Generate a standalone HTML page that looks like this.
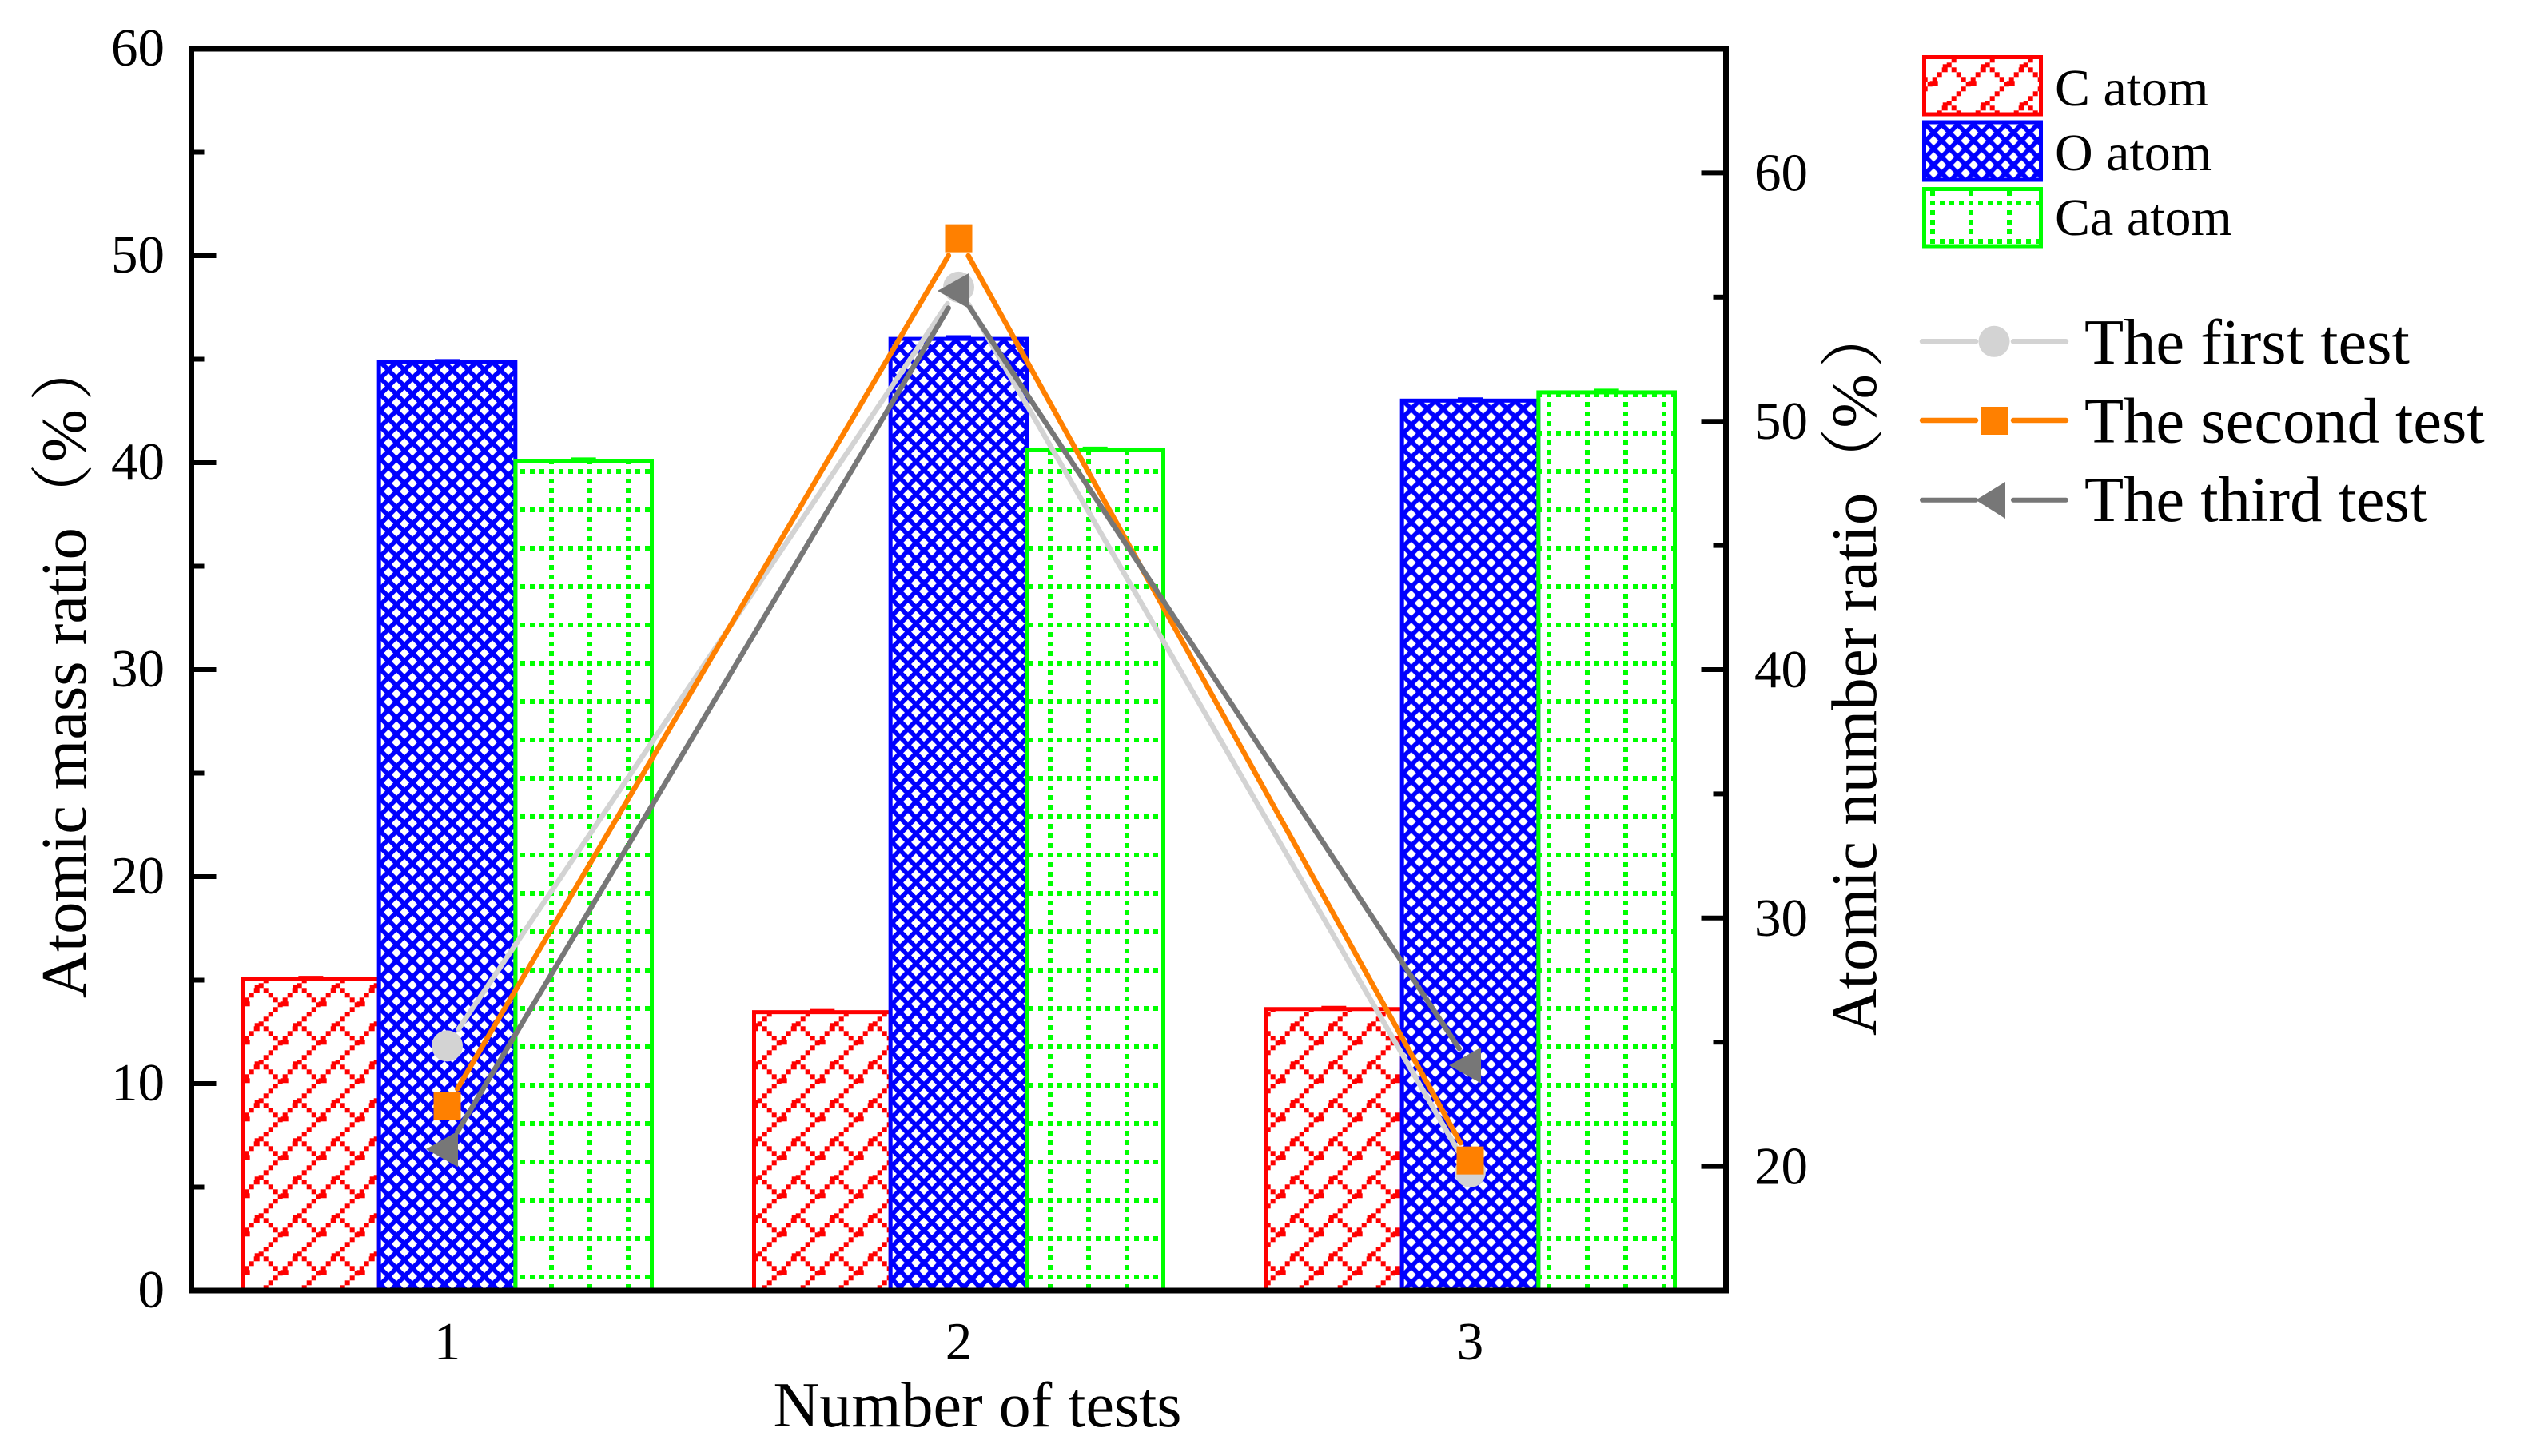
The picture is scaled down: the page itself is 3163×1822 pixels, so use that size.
<!DOCTYPE html>
<html lang="en">
<head>
<meta charset="utf-8">
<title>Atomic mass and number ratio chart</title>
<style>
html,body{margin:0;padding:0;background:#fff;}
svg{display:block;}
text{font-family:"Liberation Serif","Noto Serif CJK SC",serif;fill:#000;}
</style>
</head>
<body>
<svg id="chart" xmlns="http://www.w3.org/2000/svg" width="3163" height="1822" viewBox="0 0 3163 1822">
<defs id="defs">
<pattern id="hatch-red" patternUnits="userSpaceOnUse" x="326.7" y="1233.3" width="48" height="48" shape-rendering="crispEdges"></pattern>
<pattern id="hatch-green" patternUnits="userSpaceOnUse" x="15" y="11" width="48" height="48" shape-rendering="crispEdges"></pattern>
</defs>
<rect x="0" y="0" width="3163" height="1822" fill="#fff"></rect>
<g id="bars"></g>
<g id="lines"></g>
<g id="axes"></g>

<text x="107" y="1249" font-size="80.3" transform="rotate(-90 107 1249)">Atomic mass ratio（<tspan dx="1">%</tspan><tspan dx="10">）</tspan></text>
<text x="2347" y="1296" font-size="81" transform="rotate(-90 2347 1296)">Atomic number ratio（%<tspan dx="8">）</tspan></text>
<text x="1223" y="1785" font-size="80" text-anchor="middle">Number of tests</text>

<g>
<g>
<rect x="2407.5" y="71.5" width="146" height="71.5" fill="url(#hatch-red)" stroke="#ff0000" stroke-width="5"></rect>
<text x="2571" y="132" font-size="66">C atom</text>
</g>
<g>
<rect x="2407.5" y="153" width="146" height="72" fill="url(#hatch-blue-legend)" stroke="#0000ff" stroke-width="5"></rect>
<text x="2571" y="213" font-size="66">O atom</text>
</g>
<g>
<rect x="2407.5" y="236.5" width="146" height="71.5" fill="url(#hatch-green)" stroke="#00ff00" stroke-width="5"></rect>
<text x="2571" y="294" font-size="66">Ca atom</text>
</g>
</g>

<g stroke-linecap="round">
<g>
<line x1="2405" y1="427.3" x2="2472" y2="427.3" stroke="#d3d3d3" stroke-width="6.5"></line>
<line x1="2519" y1="427.3" x2="2585" y2="427.3" stroke="#d3d3d3" stroke-width="6.5"></line>
<circle cx="2495" cy="427.3" r="19.5" fill="#d3d3d3"></circle>
<text x="2608" y="455" font-size="80.5">The first test</text>
</g>
<g>
<line x1="2405" y1="526" x2="2472" y2="526" stroke="#ff8000" stroke-width="6.5"></line>
<line x1="2519" y1="526" x2="2585" y2="526" stroke="#ff8000" stroke-width="6.5"></line>
<rect x="2478" y="509" width="34" height="35" fill="#ff8000"></rect>
<text x="2608" y="553.5" font-size="80.5">The second test</text>
</g>
<g>
<line x1="2405" y1="625.7" x2="2472" y2="625.7" stroke="#777777" stroke-width="6"></line>
<line x1="2519" y1="625.7" x2="2585" y2="625.7" stroke="#777777" stroke-width="6"></line>
<polygon points="2472,625.7 2509,603 2509,649" fill="#777777"></polygon>
<text x="2608" y="652" font-size="80.5">The third test</text>
</g>
</g>
</svg>
<script>
// Chart data
const categories = ['1', '2', '3'];
const cAtom = [15.05, 13.45, 13.6];
const oAtom = [44.85, 45.98, 43.0];
const caAtom = [40.08, 40.6, 43.4];
const cAtomErr = [0.06, 0.06, 0.06];
const oAtomErr = [0.06, 0.08, 0.06];
const caAtomErr = [0.08, 0.08, 0.08];
const firstTest = [24.85, 55.4, 19.78];
const secondTest = [22.43, 57.37, 20.24];
const thirdTest = [20.7, 55.25, 24.07];
const leftTicks = ['0', '10', '20', '30', '40', '50', '60'];
const rightTicks = ['20', '30', '40', '50', '60'];

const NS = 'http://www.w3.org/2000/svg';
const plotLeft = 239.5, plotRight = 2159.5, plotTop = 61, plotBottom = 1615;
const leftMin = 0, leftMax = 60, rightMin = 15, rightMax = 65;
function yLeft(v) { return plotBottom - (v - leftMin) / (leftMax - leftMin) * (plotBottom - plotTop); }
function yRight(v) { return plotBottom - (v - rightMin) / (rightMax - rightMin) * (plotBottom - plotTop); }
function xCat(i) { return plotLeft + (i + 0.5) * (plotRight - plotLeft) / categories.length; }
const barWidth = (plotRight - plotLeft) / categories.length * 0.8 / 3;

function make(tag, attrs, parent) {
  const el = document.createElementNS(NS, tag);
  for (const k in attrs) el.setAttribute(k, attrs[k]);
  parent.appendChild(el);
  return el;
}

// Hatch tiles
const red = document.getElementById('hatch-red');
function redDot(x, y) {
  for (const dx of [0, 48, -48]) for (const dy of [0, 48, -48]) {
    make('rect', { x: x + dx, y: y + dy, width: 6, height: 6, fill: '#ff0000' }, red);
  }
}
for (let k = 0; k < 8; k++) redDot(((48 - 6 * k) % 48) - 3, 6 * k - 3);
for (let k = 1; k < 4; k++) redDot(6 * k - 3, 6 * k - 3);
redDot(-8, 3); redDot(-8, -1); redDot(24, 20); redDot(28, 20);

const green = document.getElementById('hatch-green');
for (let k = 0; k < 4; k++) {
  make('rect', { x: 12 * k, y: 0, width: 6, height: 6, fill: '#00ff00' }, green);
  if (k > 0) make('rect', { x: 0, y: 12 * k, width: 6, height: 6, fill: '#00ff00' }, green);
}

// Blue diamond hatch: the reference restarts its phase on each bar
const defs = document.getElementById('defs');
function blueHatch(id, ax, ay) {
  const w = 20, h = 20.25, r = 6;
  const p = make('pattern', { id: id, patternUnits: 'userSpaceOnUse', x: ax, y: ay, width: w, height: h }, defs);
  make('rect', { width: w, height: h, fill: '#0000ff' }, p);
  [[0, 0], [w, 0], [0, h], [w, h], [w / 2, h / 2]].forEach(function (c) {
    make('polygon', { points: c[0] + ',' + (c[1] - r) + ' ' + (c[0] + r) + ',' + c[1] + ' ' + c[0] + ',' + (c[1] + r) + ' ' + (c[0] - r) + ',' + c[1], fill: '#fff' }, p);
  });
}
blueHatch('hatch-blue-0', 486, 1506);
blueHatch('hatch-blue-1', 1146, 527.3);
blueHatch('hatch-blue-2', 1775.7, 1504);
blueHatch('hatch-blue-legend', 2429.3, 166);

// Bars
const barsG = document.getElementById('bars');
const barSeries = [
  { key: 'c-atom', vals: cAtom, errs: cAtomErr, color: '#ff0000', hatch: function () { return 'hatch-red'; }, off: -1 },
  { key: 'o-atom', vals: oAtom, errs: oAtomErr, color: '#0000ff', hatch: function (i) { return 'hatch-blue-' + i; }, off: 0 },
  { key: 'ca-atom', vals: caAtom, errs: caAtomErr, color: '#00ff00', hatch: function () { return 'hatch-green'; }, off: 1 }
];
barSeries.forEach(function (s) {
  s.vals.forEach(function (v, i) {
    const cx = xCat(i) + s.off * barWidth;
    const top = yLeft(v);
    const bar = make('rect', { x: cx - barWidth / 2, y: top, width: barWidth, height: yLeft(0) - top, fill: 'url(#' + s.hatch(i) + ')', stroke: s.color, 'stroke-width': 5 }, barsG);
    
    
    const capY = yLeft(v + s.errs[i]);
    const cap = make('line', { x1: cx - 15.5, x2: cx + 15.5, y1: capY, y2: capY, stroke: s.color, 'stroke-width': 5 }, barsG);
    
    
  });
});

// Lines
const linesG = document.getElementById('lines');
const gap = 25;
const lineSeries = [
  { key: 'first-test', vals: firstTest, color: '#d3d3d3', width: 6.5, marker: 'circle' },
  { key: 'second-test', vals: secondTest, color: '#ff8000', width: 6.5, marker: 'square' },
  { key: 'third-test', vals: thirdTest, color: '#777777', width: 6.5, marker: 'triangle' }
];
lineSeries.forEach(function (s) {
  const pts = s.vals.map(function (v, i) { return [xCat(i), yRight(v)]; });
  for (let i = 0; i < pts.length - 1; i++) {
    const a = pts[i], b = pts[i + 1];
    const d = Math.hypot(b[0] - a[0], b[1] - a[1]);
    const ux = (b[0] - a[0]) / d, uy = (b[1] - a[1]) / d;
    const seg = make('line', { x1: a[0] + ux * gap, y1: a[1] + uy * gap, x2: b[0] - ux * gap, y2: b[1] - uy * gap, stroke: s.color, 'stroke-width': s.width, 'stroke-linecap': 'round' }, linesG);
    
    
  }
});
lineSeries.forEach(function (s) {
  s.vals.forEach(function (v, i) {
    const x = xCat(i), y = yRight(v);
    let m;
    if (s.marker === 'circle') {
      m = make('circle', { cx: x, cy: y, r: 19.5, fill: s.color }, linesG);
    } else if (s.marker === 'square') {
      m = make('rect', { x: x - 17, y: y - 17.5, width: 34, height: 35, fill: s.color }, linesG);
    } else {
      m = make('polygon', { points: (x - 26.5) + ',' + y + ' ' + (x + 13.5) + ',' + (y - 22.5) + ' ' + (x + 13.5) + ',' + (y + 22.5), fill: s.color }, linesG);
    }
    
    
  });
});

// Axes
const axesG = document.getElementById('axes');
const frame = make('rect', { x: plotLeft, y: plotTop, width: plotRight - plotLeft, height: plotBottom - plotTop, fill: 'none', stroke: '#000', 'stroke-width': 7 }, axesG);



leftTicks.forEach(function (t, i) {
  const y = yLeft(Number(t));
  const tick = make('line', { x1: plotLeft, x2: plotLeft + 31, y1: y, y2: y, stroke: '#000', 'stroke-width': 6 }, axesG);
  
  
  const label = make('text', { x: 206, y: y + 21, 'font-size': 67, 'text-anchor': 'end' }, axesG);
  label.textContent = t;
  
  
  if (i < leftTicks.length - 1) {
    const ym = yLeft((Number(t) + Number(leftTicks[i + 1])) / 2);
    const minor = make('line', { x1: plotLeft, x2: plotLeft + 16, y1: ym, y2: ym, stroke: '#000', 'stroke-width': 6 }, axesG);
    
    
  }
});

const rightMinorValues = [15, 25, 35, 45, 55, 65];
rightTicks.forEach(function (t) {
  const y = yRight(Number(t));
  const tick = make('line', { x1: plotRight - 31, x2: plotRight, y1: y, y2: y, stroke: '#000', 'stroke-width': 6 }, axesG);
  
  
  const label = make('text', { x: 2195, y: y + 22, 'font-size': 67 }, axesG);
  label.textContent = t;
  
  
});
rightMinorValues.forEach(function (v) {
  const y = yRight(v);
  const minor = make('line', { x1: plotRight - 16, x2: plotRight, y1: y, y2: y, stroke: '#000', 'stroke-width': 6 }, axesG);
  
  
});

categories.forEach(function (c, i) {
  const label = make('text', { x: xCat(i), y: 1701, 'font-size': 67, 'text-anchor': 'middle' }, axesG);
  label.textContent = c;
  
  
});
</script>
</body>
</html>
